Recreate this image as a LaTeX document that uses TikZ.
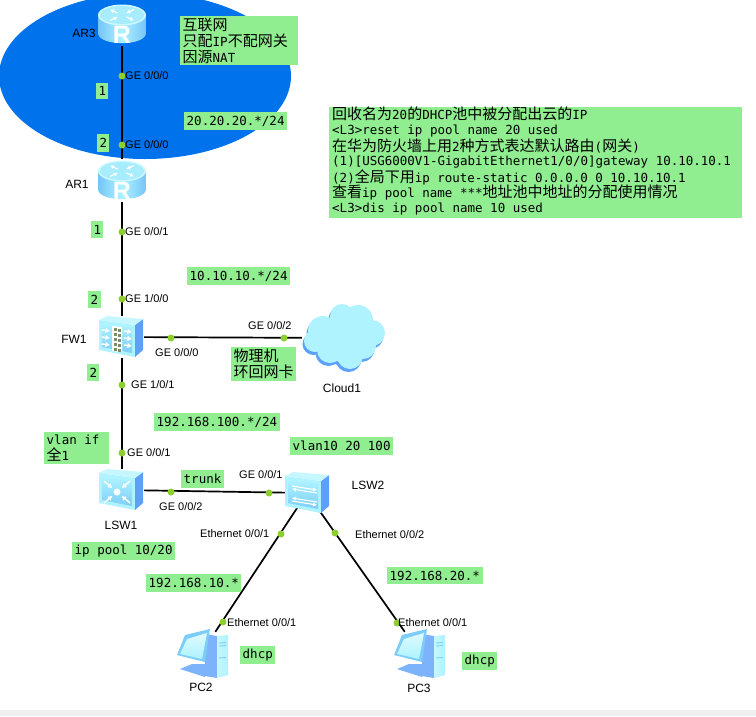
\documentclass[tikz,border=0pt]{standalone}
\usepackage{fontspec}
\setmainfont{Liberation Sans}
\setmonofont{DejaVu Sans Mono}
\newfontfamily\cjkfont{Noto Sans CJK SC}
\newcommand{\zh}[1]{{\cjkfont\fontsize{15}{16}\selectfont #1}}
\usepackage{xcolor}
\usepackage{tikz}
\usetikzlibrary{arrows.meta}
\definecolor{netblue}{RGB}{0,114,236}
\definecolor{notegreen}{RGB}{144,238,144}
\definecolor{portgreen}{RGB}{140,207,46}
\definecolor{iconlight}{RGB}{174,243,255}
\definecolor{iconmid}{RGB}{125,205,248}
\definecolor{icondark}{RGB}{92,160,250}
\definecolor{brick}{RGB}{125,140,105}

\begin{document}
\begin{tikzpicture}[
    x=1pt, y=-1pt,
    devbox/.style   = {minimum width=44pt,minimum height=42pt,inner sep=0pt},
    pcbox/.style    = {minimum width=44pt,minimum height=40pt,inner sep=0pt},
    cloudbox/.style = {minimum width=82pt,minimum height=68pt,inner sep=0pt},
    devlbl/.style   = {inner sep=0pt,font=\fontsize{12}{14}\selectfont},
    portlbl/.style  = {inner sep=0pt,anchor=west,font=\fontsize{11}{13}\selectfont},
    port/.style     = {circle,fill=portgreen,minimum size=7pt,inner sep=0pt},
    note/.style     = {fill=notegreen,inner sep=0pt,anchor=north west,align=left,font=\ttfamily\fontsize{12.5}{16}\selectfont,execute at begin node={\leftskip=2.5pt\spaceskip=0pt\xspaceskip=0pt\relax}},
    noteline/.style = {inner sep=0pt,anchor=west,font=\ttfamily\fontsize{12.5}{16}\selectfont},
    link/.style     = {line width=1.7pt,black},
    arrowline/.style= {white,line width=1.5pt,-{Latex[length=4.5pt,width=5.5pt]}},
    thinline/.style = {white,line width=1.1pt,-{Latex[length=4pt,width=4.5pt]}},
    boxbody/.pic    = {
      \fill[iconlight] (-22,-17) -- (14,-12) -- (14,20) -- (-22,13) -- cycle;
      \shade[top color=iconlight,bottom color=iconmid] (-19,-13) -- (11,-9) -- (11,16) -- (-19,10) -- cycle;
      \fill[icondark] (14,-12) -- (22,-18) -- (22,13) -- (14,20) -- cycle;
      \fill[iconlight!70!white] (-22,-17) -- (-14,-21) -- (22,-18) -- (14,-12) -- cycle;
    },
    routericon/.pic = {
      \shade[left color=iconmid!80!icondark,right color=iconmid!80!icondark,middle color=iconlight]
        (-24,-9.5) -- (-24,8.5) .. controls (-24,22) and (24,22) .. (24,8.5) -- (24,-9.5) -- cycle;
      \fill[iconlight!60!white] (0,-9.5) ellipse (24 and 10.5);
      \fill[iconlight!85!iconmid] (0,-9.5) ellipse (22 and 9);
      \begin{scope}[shift={(0,-9.5)},yscale=0.45]
        \foreach \a in {45,225} { \draw[thinline] (\a:6) -- (\a:17); }
        \foreach \a in {135,315} { \draw[thinline] (\a:17) -- (\a:6); }
      \end{scope}
      \node[white,inner sep=0pt,font=\bfseries\fontsize{25}{25}\selectfont] (R) at (0,10.5) {R};
    },
    fwicon/.pic = {
      \pic {boxbody};
      \fill[white] (-9,-11) -- (1,-10) -- (1,15) -- (-9,14) -- cycle;
      \foreach \yy in {-9,-4,1,6,11} {
        \fill[brick] (-7.5,\yy) rectangle (-4,\yy+3);
        \fill[brick] (-3,\yy+1) rectangle (0,\yy+4);
      }
      \foreach \yy in {-6,1,8} {
        \draw[arrowline] (-19,\yy-1) -- (-11,\yy);
        \draw[arrowline] (3,\yy) -- (11,\yy+1);
      }
    },
    lsrouteicon/.pic = {
      \pic {boxbody};
      \fill[white] (-4,2) circle (3.5);
      \foreach \a in {40,140,220,320} { \draw[arrowline] ([shift={(-4,2)}]\a:17) -- ([shift={(-4,2)}]\a:6); }
    },
    lswicon/.pic = {
      \pic {boxbody};
      \draw[thinline] (-15,-7) -- (10,-3);
      \draw[thinline] (10,0) -- (-15,-4);
      \draw[thinline] (10,9) -- (-15,5);
      \draw[thinline] (-15,8) -- (10,12);
    },
    pcicon/.pic = {
      \fill[icondark!80!white] (3,-18) -- (15,-16) -- (15,26) -- (3,24) -- cycle;
      \shade[left color=iconlight!70!white,right color=iconlight] (15,-16) -- (26,-17) -- (26,23) -- (15,26) -- cycle;
      \foreach \yy in {-9,-6,6} { \draw[iconmid,line width=0.9pt] (17,\yy) -- (24,\yy-0.5); }
      \fill[icondark!80!white] (-22,17) -- (-10,12) -- (3,12) -- (3,25) -- cycle;
      \fill[iconmid] (-17,-17) -- (8,-23) -- (3,10) -- (-25,3) -- cycle;
      \shade[top color=iconlight!40!white,bottom color=iconlight] (-15,-13) -- (5,-19) -- (0,7) -- (-22,2) -- cycle;
    },
    cloudicon/.pic = {
      \foreach \cx/\cy/\r in {0/0/24, -20/-7/15, -1/-22/12, 15/-18/15, 29/-5/13, 20/8/13, 7/18/13, -13/12/13, -28/3/11} {
        \fill[icondark] (\cx-1.5,\cy+3) circle (\r);
      }
      \foreach \cx/\cy/\r in {0/0/24, -20/-7/15, -1/-22/12, 15/-18/15, 29/-5/13, 20/8/13, 7/18/13, -13/12/13, -28/3/11} {
        \fill[iconlight] (\cx,\cy) circle (\r);
      }
    }
  ]

  \useasboundingbox (0,0) rectangle (756,716);
  \fill[black!6] (0,710) rectangle (756,716);

  \begin{scope}
    \clip (0,0) rectangle (756,716);
    \fill[netblue] (145,76) ellipse (146 and 83);
  \end{scope}

  \foreach \name/\x/\y in {AR3/122/24.5, AR1/122/180.5, FW1/122/337, LSW1/122/490, LSW2/307/493} {
    \node[devbox] (\name) at (\x,\y) {};
  }
  \node[pcbox] (PC2) at (202,652) {};
  \node[pcbox] (PC3) at (419,652) {};
  \node[cloudbox] (Cloud1) at (343,338) {};

  \draw[link] (AR3) -- (AR1);
  \draw[link] (AR1) -- (FW1);
  \draw[link] (FW1) -- (LSW1);
  \draw[link] (FW1) -- (Cloud1);
  \draw[link] (LSW1) -- (LSW2);
  \draw[link] (LSW2.center) -- (PC2);
  \draw[link] (LSW2.center) -- (PC3);

  \pic at (AR3) {routericon};
  \pic at (AR1) {routericon};
  \pic at ([xshift=-1pt]FW1) {fwicon};
  \pic at ([xshift=-1pt]LSW1) {lsrouteicon};
  \pic at (LSW2) {lswicon};
  \pic at (PC2) {pcicon};
  \pic at (PC3) {pcicon};
  \pic at (Cloud1) {cloudicon};

  \foreach \name/\x/\y in {AR3/84/33, AR1/77/184, FW1/74/339, LSW1/121/525, LSW2/368/485, Cloud1/342/388, PC2/201/687, PC3/419/688} {
    \node[devlbl] (lbl\name) at (\x,\y) {\name};
  }

  \foreach \i/\px/\py/\lx/\ly/\lbl in {
      1/122/76/125/76/{GE 0/0/0},
      2/122/145/125/145/{GE 0/0/0},
      3/122/232/125/232/{GE 0/0/1},
      4/122/299/125/299/{GE 1/0/0},
      5/171/338/155/353/{GE 0/0/0},
      6/284/338/248/326/{GE 0/0/2},
      7/122/385/131/385/{GE 1/0/1},
      8/122/453/127/453/{GE 0/0/1},
      9/171/492/159/507/{GE 0/0/2},
      10/269/493/239/475/{GE 0/0/1},
      11/281/534/200/534/{Ethernet 0/0/1},
      12/335/533/355/535/{Ethernet 0/0/2},
      13/223/622/227/623/{Ethernet 0/0/1},
      14/397/623/398/623/{Ethernet 0/0/1}} {
    \node[port] (P\i) at (\px,\py) {};
    \node[portlbl] (PL\i) at (\lx,\ly) {\lbl};
  }

  \foreach \i/\x/\y/\w/\h/\txt in {
      1/180/16/118/49/{\zh{互联网}\\\zh{只配}IP\zh{不配网关}\\\zh{因源}NAT},
      2/96/83/12/16/{1},
      3/97/134/12/18/{2},
      4/91/221/12/17/{1},
      5/184/112/103/18/{20.20.20.*/24},
      6/187/267/103/18/{10.10.10.*/24},
      7/88/291/13/17/{2},
      8/87/364/12/17/{2},
      9/231/347/65/34/{\zh{物理机}\\\zh{环回网卡}},
      10/154/413/126/18/{192.168.100.*/24},
      11/290/437/103/18/{vlan10 20 100},
      12/44/432/65/32/{vlan if\\\zh{全}1},
      13/181/470/43/18/{trunk},
      14/72/542/103/18/{ip pool 10/20},
      15/146/574/95/18/{192.168.10.*},
      16/387/567/96/17/{192.168.20.*},
      17/240/646/35/18/{dhcp},
      18/462/652/35/18/{dhcp}} {
    \node[note,text width=\w pt,minimum height=\h pt] (N\i) at (\x,\y) {\txt};
  }

  \node[note,minimum width=413pt,minimum height=111pt] (Nbig) at (329,107) {};
  \foreach \i/\y/\txt in {
      1/114/{\zh{回收名为}20\zh{的}DHCP\zh{池中被分配出云的}IP},
      2/131/{<L3>reset ip pool name 20 used},
      3/146/{\zh{在华为防火墙上用}2\zh{种方式表达默认路由}(\zh{网关})},
      4/162/{(1)[USG6000V1-GigabitEthernet1/0/0]gateway 10.10.10.1},
      5/177/{(2)\zh{全局下用}ip route-static 0.0.0.0 0 10.10.10.1},
      6/192/{\zh{查看}ip pool name ***\zh{地址池中地址的分配使用情况}},
      7/209/{<L3>dis ip pool name 10 used}} {
    \node[noteline] (T\i) at (332,\y) {\txt};
  }

\end{tikzpicture}
\end{document}
